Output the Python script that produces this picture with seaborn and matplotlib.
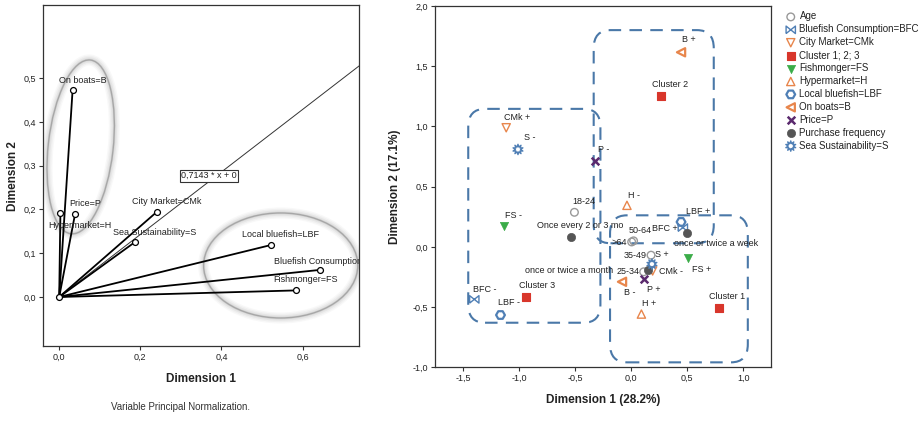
import numpy as np
import pandas as pd
import matplotlib
matplotlib.use("Agg")
import matplotlib.pyplot as plt
from matplotlib.patches import Ellipse, FancyBboxPatch
import seaborn as sns

# ---- left panel: variable loadings ----
var_names = ["On boats=B", "Hypermarket=H", "Price=P", "City Market=CMk",
             "Sea Sustainability=S", "Local bluefish=LBF",
             "Bluefish Consumption", "Fishmonger=FS"]
var_dim1 = [0.033, 0.003, 0.039, 0.240, 0.186, 0.523, 0.644, 0.583]
var_dim2 = [0.472, 0.193, 0.189, 0.194, 0.125, 0.119, 0.062, 0.015]
fit_slope = 0.7143

# ---- right panel: category points ----
grp_names = ["Age", "Bluefish Consumption=BFC", "City Market=CMk", "Cluster 1; 2; 3",
             "Fishmonger=FS", "Hypermarket=H", "Local bluefish=LBF", "On boats=B",
             "Price=P", "Purchase frequency", "Sea Sustainability=S"]
age_lab = ["18-24", "25-34", "35-49", "50-64", ">64"]
age_d1 = [-0.508, 0.110, 0.176, 0.020, 0.003]
age_d2 = [0.287, -0.207, -0.069, 0.050, 0.041]
bfc_lab = ["BFC +", "BFC -"]
bfc_d1 = [0.46, -1.402]
bfc_d2 = [0.16, -0.436]
cmk_lab = ["CMk +", "CMk -"]
cmk_d1 = [-1.117, 0.19]
cmk_d2 = [0.989, -0.20]
clu_lab = ["Cluster 1", "Cluster 2", "Cluster 3"]
clu_d1 = [0.787, 0.261, -0.943]
clu_d2 = [-0.506, 1.249, -0.417]
fs_lab = ["FS +", "FS -"]
fs_d1 = [0.506, -1.138]
fs_d2 = [-0.096, 0.171]
h_lab = ["H +", "H -"]
h_d1 = [0.09, -0.039]
h_d2 = [-0.558, 0.345]
lbf_lab = ["LBF +", "LBF -"]
lbf_d1 = [0.444, -1.168]
lbf_d2 = [0.207, -0.566]
b_lab = ["B +", "B -"]
b_d1 = [0.444, -0.083]
b_d2 = [1.616, -0.29]
p_lab = ["P +", "P -"]
p_d1 = [0.116, -0.321]
p_d2 = [-0.268, 0.713]
pf_lab = ["Once every 2 or 3 mo", "once or twice a week", "once or twice a month"]
pf_d1 = [-0.54, 0.497, 0.15]
pf_d2 = [0.083, 0.119, -0.19]
s_lab = ["S +", "S -"]
s_d1 = [0.184, -1.012]
s_d2 = [-0.143, 0.809]

sns.set_style("white")
plt.rcParams["font.family"] = ["Liberation Sans", "DejaVu Sans"]
txt = "#222222"

fig = plt.figure(figsize=(9.2, 4.25), dpi=100)
ax1 = fig.add_axes([0.0467, 0.1859, 0.3435, 0.802])
ax2 = fig.add_axes([0.4728, 0.1358, 0.365, 0.850])

# ---------------- left ----------------
for x, y in zip(var_dim1, var_dim2):
    ax1.plot([0, x], [0, y], color="black", lw=1.3, zorder=2)
xs = np.array([0, 0.74])
ax1.plot(xs, fit_slope * xs, color="#333333", lw=0.7, zorder=1)
sns.scatterplot(x=var_dim1 + [0], y=var_dim2 + [0], ax=ax1, s=18, marker="o",
                color="black", facecolor="white", edgecolor="black", linewidth=0.9,
                zorder=3, legend=False)

var_lab_pos = [(0.058, 0.495), (0.05, 0.163), (0.063, 0.214), (0.265, 0.218),
               (0.235, 0.148), (0.545, 0.143), (0.637, 0.082), (0.607, 0.039)]
for name, (lx, ly) in zip(var_names, var_lab_pos):
    ax1.text(lx, ly, name, fontsize=6.5, color=txt, ha="center", va="center", zorder=4,
             clip_on=True)
ax1.text(0.37, 0.277, "0,7143 * x + 0", fontsize=6.5, color=txt, ha="center", va="center",
         bbox=dict(boxstyle="square,pad=0.15", fc="white", ec="#333333", lw=0.8), zorder=4)

# glowing ellipses
for lw, a in [(8, 0.05), (6, 0.07), (4, 0.1), (2, 0.15), (1, 0.6)]:
    ax1.add_patch(Ellipse((0.053, 0.343), 0.16, 0.40, angle=-7, fill=False,
                          ec="#888888", lw=lw, alpha=a, zorder=0))
    ax1.add_patch(Ellipse((0.546, 0.072), 0.38, 0.24, angle=0, fill=False,
                          ec="#888888", lw=lw, alpha=a, zorder=0))

ax1.set_xlim(-0.04, 0.739)
ax1.set_ylim(-0.112, 0.667)
ax1.set_xticks([0, 0.2, 0.4, 0.6])
ax1.set_xticklabels(["0,0", "0,2", "0,4", "0,6"])
ax1.set_yticks([0, 0.1, 0.2, 0.3, 0.4, 0.5])
ax1.set_yticklabels(["0,0", "0,1", "0,2", "0,3", "0,4", "0,5"])
ax1.set_xlabel("Dimension 1", fontsize=8.5, fontweight="bold", color=txt, labelpad=8)
ax1.set_ylabel("Dimension 2", fontsize=8.5, fontweight="bold", color=txt, labelpad=3)
fig.text(0.196, 0.042, "Variable Principal Normalization.", fontsize=7, color="#333333",
         ha="center", va="center")

# ---------------- right ----------------
orange = "#e8864c"
blue = "#4f7fb5"
bowtie = [(-1, -0.8), (-1, 0.8), (0, 0), (1, 0.8), (1, -0.8), (0, 0), (-1, -0.8)]
groups = [
    (age_d1, age_d2, "o", "#999999", "none", 1.0, 30),
    (bfc_d1, bfc_d2, bowtie, blue, "none", 1.0, 45),
    (cmk_d1, cmk_d2, "v", orange, "none", 1.0, 35),
    (clu_d1, clu_d2, "s", "#d8362b", "#d8362b", 0.8, 40),
    (fs_d1, fs_d2, "v", "#3aac48", "#3aac48", 0.5, 35),
    (h_d1, h_d2, "^", orange, "none", 1.0, 35),
    (lbf_d1, lbf_d2, "H", blue, "none", 1.6, 40),
    (b_d1, b_d2, "<", orange, "none", 1.6, 35),
    (p_d1, p_d2, "x", "#5b2a6e", None, 1.8, 30),
    (pf_d1, pf_d2, "o", "#555555", "#555555", 0.5, 35),
    (s_d1, s_d2, (10, 1, 0), blue, "none", 1.0, 55),
]
for name, (gx, gy, mk, col, fc, lw, sz) in zip(grp_names, groups):
    df = pd.DataFrame({"d1": gx, "d2": gy})
    kw = dict(color=col, edgecolor=col, linewidth=lw)
    if fc is not None:
        kw["facecolor"] = fc
    sns.scatterplot(data=df, x="d1", y="d2", ax=ax2, marker=mk, s=sz,
                    label=name, zorder=3, **kw)

all_labels = age_lab + bfc_lab + cmk_lab + clu_lab + fs_lab + h_lab + lbf_lab + b_lab + p_lab + pf_lab + s_lab
label_pos = [
    (-0.425, 0.379), (-0.03, -0.207), (0.036, -0.069), (0.076, 0.138), (-0.107, 0.036),
    (0.30, 0.155), (-1.31, -0.353),
    (-1.02, 1.078), (0.353, -0.207),
    (0.854, -0.415), (0.342, 1.346), (-0.842, -0.323),
    (0.625, -0.185), (-1.05, 0.263),
    (0.155, -0.47), (0.02, 0.429),
    (0.60, 0.29), (-1.096, -0.464),
    (0.512, 1.72), (-0.018, -0.381),
    (0.197, -0.351), (-0.247, 0.81),
    (-0.455, 0.18), (0.76, 0.028), (-0.56, -0.20),
    (0.274, -0.06), (-0.908, 0.912),
]
for name, (lx, ly) in zip(all_labels, label_pos):
    ax2.text(lx, ly, name, fontsize=6.5, color=txt, ha="center", va="center", zorder=4)

# dashed cluster boxes
boxes = [(-1.456, -0.63, 1.18, 1.776), (-0.336, 0.03, 1.072, 1.77), (-0.19, -0.959, 1.23, 1.221)]
for bx, by, bw, bh in boxes:
    ax2.add_patch(FancyBboxPatch((bx, by), bw, bh, boxstyle="round,pad=0,rounding_size=0.15",
                                 fill=False, ec="#4a78a8", lw=1.5, ls=(0, (6, 4)), zorder=2))

ax2.set_xlim(-1.753, 1.245)
ax2.set_ylim(-1.0, 2.0)
ax2.set_xticks([-1.5, -1.0, -0.5, 0, 0.5, 1.0])
ax2.set_xticklabels(["-1,5", "-1,0", "-0,5", "0,0", "0,5", "1,0"])
ax2.set_yticks([-1.0, -0.5, 0, 0.5, 1.0, 1.5, 2.0])
ax2.set_yticklabels(["-1,0", "-0,5", "0,0", "0,5", "1,0", "1,5", "2,0"])
ax2.set_xlabel("Dimension 1 (28.2%)", fontsize=8.5, fontweight="bold", color=txt, labelpad=8)
ax2.set_ylabel("Dimension 2 (17.1%)", fontsize=8.5, fontweight="bold", color=txt, labelpad=8)
ax2.legend(loc="upper left", bbox_to_anchor=(1.045, 0.985), frameon=False, fontsize=7,
           labelspacing=0.3, handlelength=1.0, handletextpad=0.4, borderpad=0,
           borderaxespad=0, labelcolor=txt)

for ax in (ax1, ax2):
    for sp in ax.spines.values():
        sp.set_color("#333333")
        sp.set_linewidth(0.9)
    ax.tick_params(axis="both", direction="out", length=3, width=0.8, color="#333333",
                   labelsize=6.5, labelcolor=txt, bottom=True, left=True, pad=2)

fig.savefig("out.png", dpi=100, facecolor="white")
